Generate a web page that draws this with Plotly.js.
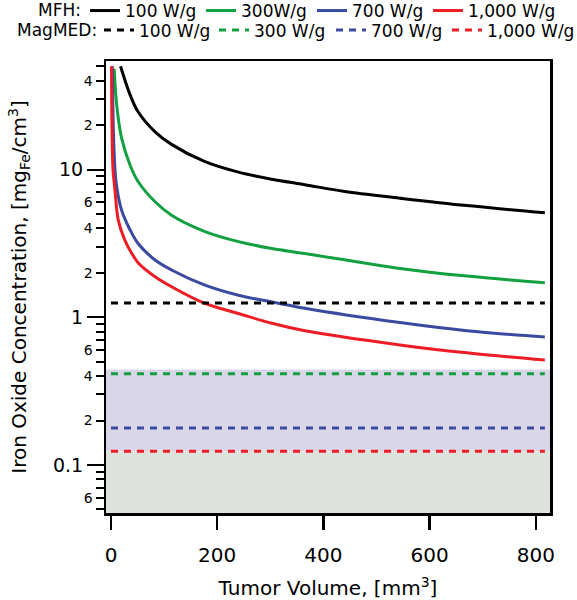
<!DOCTYPE html>
<html>
<head>
<meta charset="utf-8">
<script src="https://cdn.plot.ly/plotly-3.0.1.min.js"></script>
<style>html,body{margin:0;padding:0;background:#fff}#chart{width:577px;height:600px}</style>
</head>
<body>
<div id="chart"></div>
<script>
// ---- data ----
const mfh100X = [18, 36, 51, 83, 114, 177, 240, 303, 365, 440, 544, 670, 817];
const mfh100Y = [50, 32, 24.6, 18, 14.8, 11.3, 9.6, 8.6, 7.9, 7.1, 6.4, 5.7, 5.1];

const mfh300X = [6, 10.7, 20, 36, 51, 83, 114, 177, 240, 303, 365, 544, 670, 817];
const mfh300Y = [48, 27.4, 16.3, 10.7, 8.3, 6.05, 4.9, 3.8, 3.25, 2.92, 2.7, 2.14, 1.9, 1.71];

const mfh700X = [2.5, 4.4, 7.5, 10.7, 20, 36, 51, 83, 114, 177, 240, 303, 365, 544, 670, 817];
const mfh700Y = [50, 19, 10, 7.65, 5.3, 3.9, 3.16, 2.44, 2.09, 1.65, 1.41, 1.27, 1.15, 0.92, 0.81, 0.734];

const mfh1000X = [1, 1.9, 3.8, 7.5, 13.7, 26, 39, 51, 83, 114, 177, 240, 303, 365, 544, 670, 817];
const mfh1000Y = [50, 19, 10, 7.26, 4.55, 3.33, 2.71, 2.34, 1.88, 1.61, 1.24, 1.06, 0.91, 0.81, 0.65, 0.575, 0.513];

const magmedX = [0, 817];
const magmedLevels = [1.25, 0.415, 0.178, 0.124];   // 100, 300, 700, 1,000 W/g

const groupLabels = ['MFH:', 'MagMED:'];
const mfhNames = ['100 W/g', '300W/g', '700 W/g', '1,000 W/g'];
const magmedNames = ['100 W/g', '300 W/g', '700 W/g', '1,000 W/g'];

const bandUpper = [0.124, 0.443];   // lavender band limits
const bandLower = [0.03, 0.124];    // grey-green band limits (runs to the axis floor)

const yMajorVals = [0.06, 0.2, 0.4, 0.6, 2, 4, 6, 20, 40];
const yMajorText = ['6', '2', '4', '6', '2', '4', '6', '2', '4'];
const yDecadeVals = [0.1, 1, 10];
const yDecadeText = ['0.1', '1', '10'];
const yMinorVals = [0.05, 0.07, 0.08, 0.09, 0.3, 0.5, 0.7, 0.8, 0.9, 3, 5, 7, 8, 9, 30, 50];
const xTickVals = [0, 200, 400, 600, 800];

// ---- styling / layout positions ----
const FONT = 'DejaVu Sans, sans-serif';
const colors = ['#000000', '#12a040', '#3a4aa0', '#ee1c24'];
const yRange = [Math.log10(0.0473), Math.log10(54.3)];
const M = {l: 106, r: 27, t: 61, b: 87};
const W = 577, H = 600;
const plotW = W - M.l - M.r, plotH = H - M.t - M.b;
const px2paperX = p => (p - M.l) / plotW;
const px2paperY = p => (H - M.b - p) / plotH;
// legend item left edges (px) for each row, and row top / centre (px)
const rowItemLeft = [[85, 201, 312, 428], [99, 214, 331, 447]];
const rowTop = [-7, 12.5];
const rowMid = [10.5, 30.5];
const rowLabelRight = [83, 99];

const traces = [];
const mfhX = [mfh100X, mfh300X, mfh700X, mfh1000X];
const mfhY = [mfh100Y, mfh300Y, mfh700Y, mfh1000Y];
const legendIds = [];
for (let k = 0; k < 8; k++) legendIds.push(k === 0 ? 'legend' : 'legend' + (k + 1));

for (let i = 0; i < 4; i++) {
  traces.push({
    type: 'scatter', mode: 'lines', x: mfhX[i], y: mfhY[i],
    name: mfhNames[i], legend: legendIds[i],
    line: {color: colors[i], width: 3, shape: 'spline', smoothing: 1},
    hoverinfo: 'x+y'
  });
}
for (let i = 0; i < 4; i++) {
  traces.push({
    type: 'scatter', mode: 'lines', x: magmedX, y: [magmedLevels[i], magmedLevels[i]],
    name: magmedNames[i], legend: legendIds[4 + i], yaxis: 'y2',
    line: {color: colors[i], width: 3, dash: '7px,6px'},
    hoverinfo: 'y'
  });
}

const layout = {
  width: W, height: H,
  margin: {l: M.l, r: M.r, t: M.t, b: M.b, autoexpand: false},
  paper_bgcolor: '#ffffff', plot_bgcolor: '#ffffff',
  font: {family: FONT, color: '#000', size: 17},
  showlegend: true,
  xaxis: {
    range: [-9.4, 826.7], tickvals: xTickVals, ticks: 'outside', ticklen: 14, tickwidth: 2.5,
    tickcolor: '#000', tickfont: {size: 20, family: FONT}, ticklabelstandoff: 8,
    showline: true, linewidth: 2.5, linecolor: '#000', mirror: true,
    showgrid: false, zeroline: false,
    title: {text: 'Tumor Volume, [mm<sup>3</sup>]', font: {size: 20, family: FONT}, standoff: 16}
  },
  yaxis: {
    type: 'log', range: yRange, tickmode: 'array', tickvals: yMajorVals, ticktext: yMajorText,
    ticks: 'outside', ticklen: 8, tickwidth: 2, tickcolor: '#000',
    tickfont: {size: 14, family: FONT},
    minor: {tickmode: 'array', tickvals: yMinorVals, ticks: 'outside', ticklen: 8, tickwidth: 2, tickcolor: '#000', showgrid: false},
    showline: true, linewidth: 2.5, linecolor: '#000', mirror: true,
    showgrid: false, zeroline: false,
    title: {text: 'Iron Oxide Concentration, [mg<sub>Fe</sub>/cm<sup>3</sup>]', font: {size: 20, family: FONT}, standoff: 52}
  },
  yaxis2: {
    type: 'log', range: yRange, overlaying: 'y', side: 'left', anchor: 'x',
    tickmode: 'array', tickvals: yDecadeVals, ticktext: yDecadeText,
    ticks: 'outside', ticklen: 18, tickwidth: 2, tickcolor: '#000',
    tickfont: {size: 19, family: FONT},
    showline: false, showgrid: false, zeroline: false
  },
  shapes: [
    {type: 'rect', xref: 'paper', yref: 'y', x0: 0, x1: 1, y0: bandUpper[0], y1: bandUpper[1],
     fillcolor: '#d9d7e7', line: {width: 0}, layer: 'below'},
    {type: 'rect', xref: 'paper', yref: 'y', x0: 0, x1: 1, y0: bandLower[0], y1: bandLower[1],
     fillcolor: '#dde2dc', line: {width: 0}, layer: 'below'}
  ],
  annotations: groupLabels.map((t, r) => ({
    text: t, xref: 'paper', yref: 'paper', x: px2paperX(rowLabelRight[r]), y: px2paperY(rowMid[r]),
    xanchor: 'right', yanchor: 'middle', showarrow: false, font: {size: 17, family: FONT, color: '#000'}
  }))
};

for (let k = 0; k < 8; k++) {
  const r = Math.floor(k / 4), c = k % 4;
  layout[legendIds[k]] = {
    orientation: 'h', xref: 'paper', yref: 'paper', xanchor: 'left', yanchor: 'top',
    x: px2paperX(rowItemLeft[r][c]), y: px2paperY(rowTop[r]),
    font: {size: 17, family: FONT, color: '#000'}, bgcolor: 'rgba(0,0,0,0)', borderwidth: 0,
    itemclick: false, itemdoubleclick: false
  };
}

Plotly.newPlot('chart', traces, layout, {displayModeBar: false, staticPlot: true});
</script>
</body>
</html>
